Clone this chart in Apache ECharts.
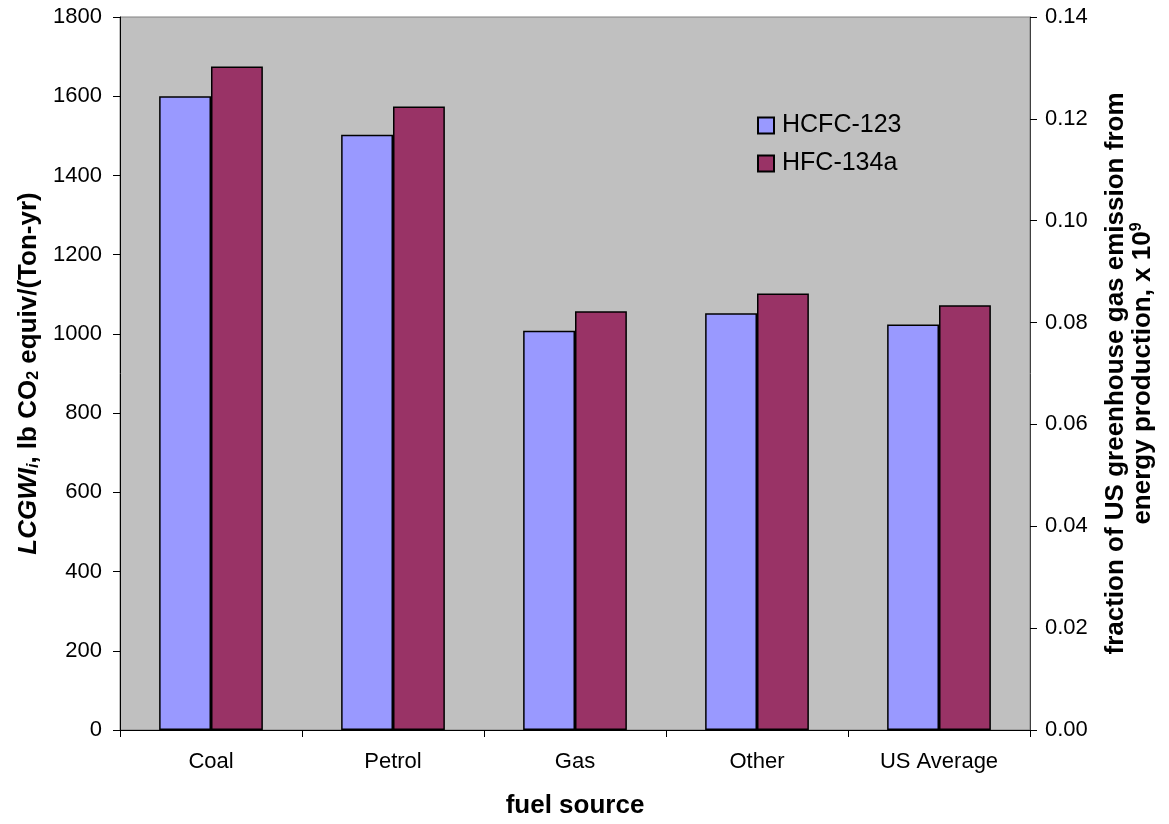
<!DOCTYPE html>
<html><head><meta charset="utf-8">
<script src="https://cdn.jsdelivr.net/npm/echarts@6/dist/echarts.min.js"></script>
<style>html,body{margin:0;padding:0;background:#fff;overflow:hidden}#c{width:1169px;height:824px}</style>
</head><body><div id="c"></div>
<script>
const categories = ['Coal', 'Petrol', 'Gas', 'Other', 'US Average'];
const hcfc123 = [1600, 1503, 1008, 1052, 1024];
const hfc134a = [1675, 1574, 1057, 1102, 1072];
const seriesNames = ['HCFC-123', 'HFC-134a'];
const leftTicks = { min: 0, max: 1800, interval: 200 };
const rightTicks = { min: 0, max: 0.14, interval: 0.02 };

const F = 'Liberation Sans, Arial, sans-serif';
const chart = echarts.init(document.getElementById('c'));
chart.setOption({
  animation: false,
  textStyle: { fontFamily: F },
  grid: { left: 120, right: 139, top: 17, bottom: 86, show: true, backgroundColor: '#C0C0C0', borderColor: '#808080', borderWidth: 1 },
  legend: {
    orient: 'vertical', left: 752, top: 108, itemWidth: 16, itemHeight: 16, itemGap: 13,
    icon: 'rect',
    textStyle: { fontFamily: F, fontSize: 25, color: '#000', padding: [0, 0, 0, 3] },
    data: seriesNames
  },
  xAxis: {
    type: 'category', data: categories,
    axisLine: { lineStyle: { color: '#000', width: 1 } },
    axisTick: { show: true, length: 7, lineStyle: { color: '#000' } },
    axisLabel: { fontFamily: F, fontSize: 22, color: '#000', margin: 21 },
    name: 'fuel source', nameLocation: 'middle', nameGap: 63,
    nameTextStyle: { fontFamily: F, fontSize: 26, fontWeight: 'bold', color: '#000' }
  },
  yAxis: [{
    type: 'value', min: leftTicks.min, max: leftTicks.max, interval: leftTicks.interval,
    splitLine: { show: false },
    axisLine: { show: true, lineStyle: { color: '#000' } },
    axisTick: { show: true, length: 7, lineStyle: { color: '#000' } },
    axisLabel: { fontFamily: F, fontSize: 22, color: '#000', margin: 18, formatter: v => String(v) },
    name: '{it|LCGWI}{its|i}{b|, lb CO}{sub|2}{b| equiv/(Ton-yr)}',
    nameLocation: 'middle', nameGap: 78, nameRotate: 90,
    nameTextStyle: {
      fontFamily: F, fontSize: 26, fontWeight: 'bold', color: '#000',
      rich: {
        it: { fontFamily: F, fontSize: 26, fontWeight: 'bold', fontStyle: 'italic', color: '#000' },
        its: { fontFamily: F, fontSize: 16, fontWeight: 'bold', fontStyle: 'italic', color: '#000', verticalAlign: 'bottom', padding: [10, 0, 0, 0] },
        b: { fontFamily: F, fontSize: 26, fontWeight: 'bold', color: '#000' },
        sub: { fontFamily: F, fontSize: 16, fontWeight: 'bold', color: '#000', verticalAlign: 'bottom', padding: [10, 0, 0, 0] }
      }
    }
  }, {
    type: 'value', min: rightTicks.min, max: rightTicks.max, interval: rightTicks.interval, position: 'right',
    splitLine: { show: false },
    axisLine: { show: true, lineStyle: { color: '#404040' } },
    axisTick: { show: true, length: 7, lineStyle: { color: '#000' } },
    axisLabel: { fontFamily: F, fontSize: 22, color: '#000', margin: 15, formatter: v => v.toFixed(2) },
    name: '{b|fraction of US greenhouse gas emission from}\n{b|energy production, x 10}{sup|9}',
    nameLocation: 'middle', nameGap: 72, nameRotate: 90,
    nameTextStyle: {
      fontFamily: F, fontSize: 26, fontWeight: 'bold', color: '#000', lineHeight: 27, align: 'center',
      rich: {
        b: { fontFamily: F, fontSize: 26, fontWeight: 'bold', color: '#000', lineHeight: 27 },
        sup: { fontFamily: F, fontSize: 16, fontWeight: 'bold', color: '#000', verticalAlign: 'top', padding: [0, 0, 12, 0], lineHeight: 27 }
      }
    }
  }],
  series: [{
    name: seriesNames[0], type: 'bar', data: hcfc123, barGap: '0%', barCategoryGap: '43%',
    itemStyle: { color: '#9999FF', borderColor: '#000', borderWidth: 1.5 }
  }, {
    name: seriesNames[1], type: 'bar', data: hfc134a,
    itemStyle: { color: '#993366', borderColor: '#000', borderWidth: 1.5 }
  }]
});
</script></body></html>
